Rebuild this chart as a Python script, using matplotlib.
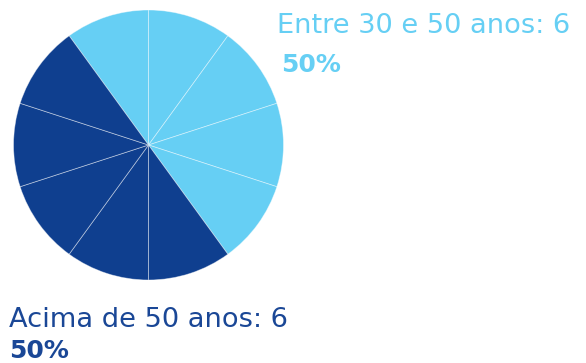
import matplotlib
matplotlib.use("Agg")
import matplotlib.pyplot as plt

# Age groups and their counts
groups = ["Entre 30 e 50 anos", "Acima de 50 anos"]
counts = [6, 6]
colors = ["#66CFF4", "#0F3F8F"]
segments_per_group = 5  # each group's share is drawn as equal segments

W, H, DPI = 586, 363, 100
fig = plt.figure(figsize=(W / DPI, H / DPI), dpi=DPI)
fig.patch.set_facecolor("white")

total = sum(counts)
shares = [c / total for c in counts]

values, wedge_colors = [], []
for share, col in zip(shares, colors):
    values += [share / segments_per_group] * segments_per_group
    wedge_colors += [col] * segments_per_group

# Pie axes placed in pixel space
cx, cy, r = 148.5, 145, 135
ax = fig.add_axes([(cx - r) / W, (H - cy - r) / H, 2 * r / W, 2 * r / H])
ax.pie(values, colors=wedge_colors, startangle=126, counterclock=False,
       radius=1, wedgeprops=dict(edgecolor=(1, 1, 1, 0.45), linewidth=0.6))
ax.set_xlim(-1, 1)
ax.set_ylim(-1, 1)
ax.set_aspect("equal")
ax.axis("off")

font = "DejaVu Sans"
fs = 19.6
fs_pct = 18

def px(x, y):
    return x / W, 1 - y / H

# Labels
x, y = px(277, 33)
fig.text(x, y, f"{groups[0]}: {counts[0]}", color=colors[0], fontsize=fs,
         family=font, va="baseline", ha="left")
x, y = px(281, 72)
fig.text(x, y, f"{shares[0] * 100:.0f}%", color=colors[0], fontsize=fs_pct,
         family=font, weight="bold", va="baseline", ha="left")

x, y = px(9, 327)
fig.text(x, y, f"{groups[1]}: {counts[1]}", color="#1A4796", fontsize=fs,
         family=font, va="baseline", ha="left")
x, y = px(9, 357.5)
fig.text(x, y, f"{shares[1] * 100:.0f}%", color="#1A4796", fontsize=fs_pct,
         family=font, weight="bold", va="baseline", ha="left")

fig.savefig("out.png", dpi=DPI, facecolor="white")
